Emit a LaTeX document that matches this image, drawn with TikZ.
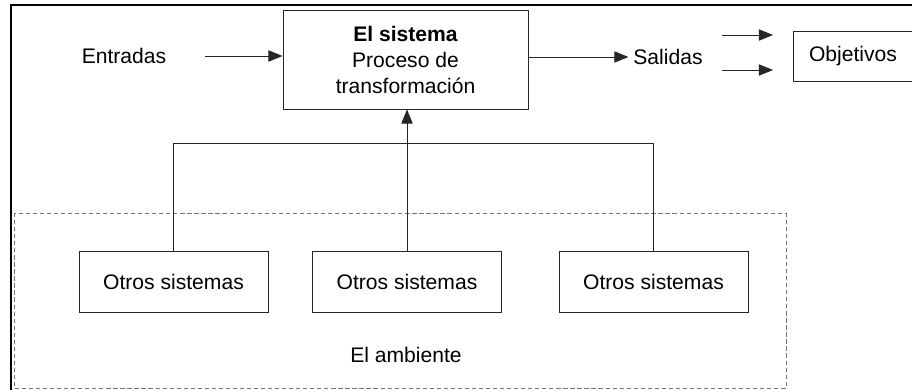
\documentclass[tikz,border=0pt]{standalone}
\usepackage{fontspec}
\setmainfont{Liberation Sans}
\usepackage{tikz}
\usetikzlibrary{arrows.meta,positioning,calc}

\begin{document}
\begin{tikzpicture}[
    x=0.025cm, y=-0.025cm,
    font=\fontsize{15}{18.5}\selectfont,
    caja/.style={rectangle, draw=black!85, line width=0.6pt, align=center, inner sep=2pt},
    sistema/.style={caja, minimum width=6.125cm, minimum height=2.475cm},
    otro/.style={caja, minimum width=4.725cm, minimum height=1.525cm},
    ambiente/.style={rectangle, draw=black!55, line width=0.7pt, dash pattern=on 3pt off 2pt, minimum width=19.275cm, minimum height=4.35cm},
    linea/.style={draw=black!85, line width=0.6pt},
    flecha/.style={linea, -{Triangle[length=10pt,width=8pt]}}
]
\useasboundingbox (0,0) rectangle (912,389);

% Outer frame (cut off right and bottom)
\draw[line width=1.5pt] (11,400) |- (930,5);

% The system
\node[sistema] (sistema) at (405.5,59.5) {\textbf{El sistema}\\Proceso de\\transformación};

% Inputs and outputs
\node (entradas) at (124,56) {Entradas};
\node (salidas) at (668,57) {Salidas};
\node[caja, minimum width=3cm, minimum height=1.25cm] (objetivos) at (853,56) {Objetivos};

\coordinate (obj_a1) at (722,35);
\coordinate (obj_b1) at (773,35);
\coordinate (obj_a2) at (722,70);
\coordinate (obj_b2) at (773,70);

% The environment
\node[ambiente] (ambiente) at (400.5,301) {};
\node (ambiente_txt) at (406,355) {El ambiente};

\node[otro] (otro1) at (173.5,281.5) {Otros sistemas};
\node[otro] (otro2) at (407,281.5) {Otros sistemas};
\node[otro] (otro3) at (653.5,281.5) {Otros sistemas};

% Arrows
\draw[flecha, shorten <=24pt] (entradas.east) -- (entradas.east -| sistema.west);
\draw[flecha] (salidas.west -| sistema.east) -- (salidas.west);
\draw[flecha] (obj_a1) -- (obj_b1);
\draw[flecha] (obj_a2) -- (obj_b2);

\draw[linea] (otro1.north) -- (otro1.north |- 0,143) -| (otro3.north);
\draw[flecha] (otro2.north) -- (otro2.north |- sistema.south);

\end{tikzpicture}
\end{document}
